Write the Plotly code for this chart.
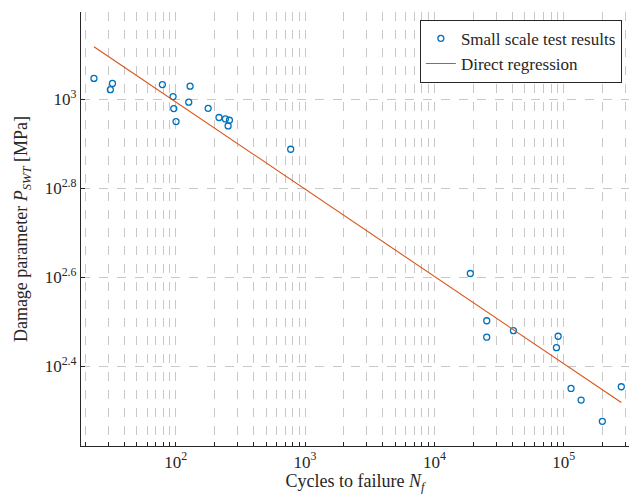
import numpy as np
import plotly.graph_objects as go

# Data: cycles to failure and damage parameter
cycles = [23.3, 31.2, 32.4, 78.8, 95.3, 96.5, 100.5, 126, 129, 178, 216, 242, 260, 254, 774,
          18970, 25400, 25400, 40850, 90600, 87900, 114000, 136400, 199000, 279000]
pswt = [1114, 1051, 1085, 1079, 1014, 953, 891, 985, 1070, 954, 910, 903, 897, 871, 772,
        406, 318, 292, 302, 293.5, 276.6, 224, 211, 189, 226]

# Direct regression: log10(P) = a + b*log10(N)
reg_intercept = 3.386
reg_slope = -0.196

x_major = [1e2, 1e3, 1e4, 1e5]
x_major_labels = ["10<sup>2</sup>", "10<sup>3</sup>", "10<sup>4</sup>", "10<sup>5</sup>"]
y_major = [10 ** 2.4, 10 ** 2.6, 10 ** 2.8, 10 ** 3.0]
y_major_labels = ["10<sup>2.4</sup>", "10<sup>2.6</sup>", "10<sup>2.8</sup>", "10<sup>3</sup>"]

# all decade multiples for x grid
x_grid = []
for e in range(1, 6):
    for m in range(1, 10):
        v = m * 10 ** e
        if 19 <= v <= 320000:
            x_grid.append(v)
x_grid_text = [x_major_labels[x_major.index(v)] if v in x_major else "" for v in x_grid]

n_line = np.array([min(cycles), max(cycles)])
p_line = 10 ** (reg_intercept + reg_slope * np.log10(n_line))

font_family = "Liberation Serif, DejaVu Serif, serif"
ink = "#262626"

fig = go.Figure()
fig.add_trace(go.Scatter(
    x=cycles, y=pswt, mode="markers", name="Small scale test results",
    marker=dict(symbol="circle-open", size=6, color="#0072BD", line=dict(width=1.3, color="#0072BD")),
    cliponaxis=False,
))
fig.add_trace(go.Scatter(
    x=n_line, y=p_line, mode="lines", name="Direct regression",
    line=dict(color="#D95319", width=1.1),
))

fig.update_layout(
    width=632, height=494,
    margin=dict(l=81, r=3, t=12, b=48, autoexpand=False),
    plot_bgcolor="white", paper_bgcolor="white",
    font=dict(family=font_family, size=14, color=ink),
    showlegend=True,
    legend=dict(
        x=0.987, y=0.982, xanchor="right", yanchor="top",
        bgcolor="white", bordercolor=ink, borderwidth=1,
        font=dict(family=font_family, size=17, color=ink),
        tracegroupgap=0, itemwidth=30,
    ),
)
fig.update_xaxes(
    type="log", range=[np.log10(18.5), np.log10(320000)],
    tickmode="array", tickvals=x_grid, ticktext=x_grid_text,
    ticks="inside", ticklen=4, tickcolor=ink, tickwidth=1,
    showgrid=True, gridcolor="#c8c8c8", griddash="dash", gridwidth=1,
    showline=True, linecolor=ink, linewidth=1.2, mirror=False,
    zeroline=False, automargin=False,
    tickfont=dict(family=font_family, size=17, color=ink),
    title=dict(text="Cycles to failure <i>N</i><sub><i>f</i></sub>",
               font=dict(family=font_family, size=18, color=ink), standoff=2),
)
fig.update_yaxes(
    type="log", range=[2.221, 3.196],
    tickmode="array", tickvals=y_major, ticktext=y_major_labels,
    ticks="inside", ticklen=4, tickcolor=ink, tickwidth=1,
    showgrid=True, gridcolor="#c8c8c8", griddash="dash", gridwidth=1,
    showline=True, linecolor=ink, linewidth=1.2, mirror=False,
    zeroline=False, automargin=False,
    tickfont=dict(family=font_family, size=17, color=ink),
    title=dict(text="Damage parameter <i>P</i><sub><i>SWT</i></sub> [MPa]",
               font=dict(family=font_family, size=18, color=ink), standoff=12),
)

fig.write_html("out.html", config={"displayModeBar": False},
               post_script="document.body.style.margin='0';")
